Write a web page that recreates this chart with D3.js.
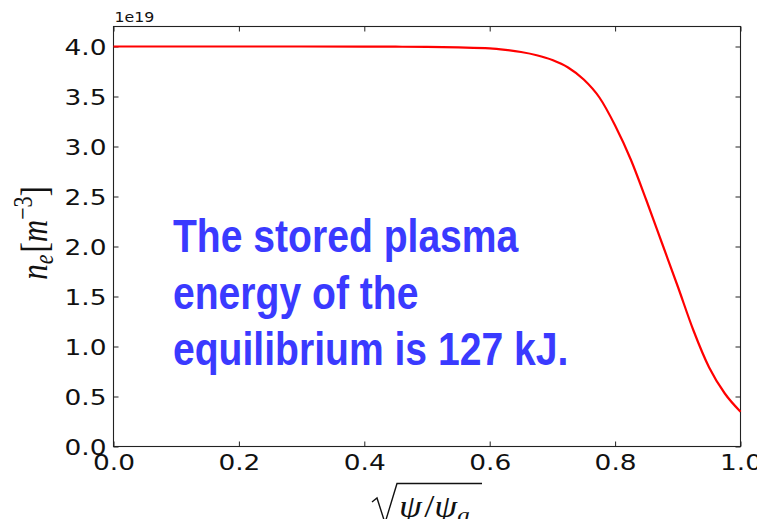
<!DOCTYPE html>
<html>
<head>
<meta charset="utf-8">
<script src="https://cdn.jsdelivr.net/npm/d3@7"></script>
<style>
  html, body { margin: 0; padding: 0; background: #fff; overflow: hidden; }
  svg { display: block; }
</style>
</head>
<body>
<svg id="chart" width="757" height="519"></svg>
<script>
// Normalised flux coordinate sqrt(psi/psi_a)
const rho = [0.000, 0.100, 0.200, 0.300, 0.400, 0.450, 0.500, 0.550, 0.600, 0.625,
             0.650, 0.675, 0.700, 0.725, 0.750, 0.775, 0.800, 0.825, 0.850, 0.875,
             0.900, 0.925, 0.950, 0.975, 1.000];
// Electron density profile, units of 1e19 m^-3
const density = [4.000, 4.000, 4.000, 4.000, 3.999, 3.998, 3.996, 3.991, 3.982, 3.967,
                 3.945, 3.913, 3.865, 3.790, 3.670, 3.490, 3.210, 2.870, 2.460, 2.030,
                 1.600, 1.160, 0.790, 0.530, 0.348];
const xTicks = [0.0, 0.2, 0.4, 0.6, 0.8, 1.0];
const yTicks = [0.0, 0.5, 1.0, 1.5, 2.0, 2.5, 3.0, 3.5, 4.0];
const annotation = ["The stored plasma", "energy of the", "equilibrium is 127 kJ."];

const W = 757, H = 519;
const margin = { left: 113.5, right: 16.5, top: 26.5, bottom: 72.5 };
const svg = d3.select("#chart");

const x = d3.scaleLinear().domain([0, 1]).range([margin.left, W - margin.right]);
const y = d3.scaleLinear().domain([0, 4.2]).range([H - margin.bottom, margin.top]);

const tickFont = "'DejaVu Sans', sans-serif";
const stretch = 1.2;
const tickLen = 5;

// Frame
svg.append("rect")
  .attr("x", x(0)).attr("y", y(4.2))
  .attr("width", x(1) - x(0)).attr("height", y(0) - y(4.2))
  .attr("fill", "none").attr("stroke", "#222").attr("stroke-width", 1.1);

// Bottom axis with labels
const gx = svg.append("g").attr("transform", `translate(0,${y(0)})`)
  .call(d3.axisBottom(x).tickValues(xTicks).tickFormat(d3.format(".1f"))
    .tickSizeInner(-tickLen).tickSizeOuter(0));
gx.selectAll("text")
  .attr("y", 0).attr("dy", 0)
  .attr("transform", `translate(0,23) scale(${stretch},1)`)
  .attr("font-family", tickFont).attr("font-size", 22).attr("fill", "#111")
  .attr("text-anchor", "middle");

// Left axis with labels
const gy = svg.append("g").attr("transform", `translate(${x(0)},0)`)
  .call(d3.axisLeft(y).tickValues(yTicks).tickFormat(d3.format(".1f"))
    .tickSizeInner(-tickLen).tickSizeOuter(0));
gy.selectAll("text")
  .attr("x", 0).attr("dy", 0)
  .attr("transform", `translate(-7,8) scale(${stretch},1)`)
  .attr("font-family", tickFont).attr("font-size", 22).attr("fill", "#111")
  .attr("text-anchor", "end");

// Top and right axes, ticks only
svg.append("g").attr("transform", `translate(0,${y(4.2)})`)
  .call(d3.axisTop(x).tickValues(xTicks).tickFormat("").tickSizeInner(-tickLen).tickSizeOuter(0));
svg.append("g").attr("transform", `translate(${x(1)},0)`)
  .call(d3.axisRight(y).tickValues(yTicks).tickFormat("").tickSizeInner(-tickLen).tickSizeOuter(0));

svg.selectAll(".domain").remove();
svg.selectAll(".tick line").attr("stroke", "#222").attr("stroke-width", 1);

// Offset / multiplier text
svg.append("text")
  .attr("transform", `translate(${x(0) + 1},22) scale(1.17,1)`)
  .attr("font-family", tickFont).attr("font-size", 13.5).attr("fill", "#111")
  .text("1e19");

// Density profile
const line = d3.line()
  .x((d, i) => x(rho[i]))
  .y(d => y(d))
  .curve(d3.curveMonotoneX);
svg.append("path")
  .datum(density)
  .attr("d", line)
  .attr("fill", "none")
  .attr("stroke", "#ff0000")
  .attr("stroke-width", 2.2);

// Annotation
const note = svg.append("g");
annotation.forEach((s, i) => {
  note.append("text")
    .attr("transform", `translate(173,${252 + i * 56.5}) scale(0.85,1)`)
    .attr("font-family", "'Liberation Sans', Arial, sans-serif")
    .attr("font-weight", "bold")
    .attr("font-size", 46)
    .attr("fill", "#3a3aff")
    .text(s);
});

// Y axis label: n_e [m^-3]
const mathFont = "'Liberation Serif', 'DejaVu Serif', serif";
const ylab = svg.append("text")
  .attr("transform", `translate(47,233) scale(1.25,1) rotate(-90)`)
  .attr("text-anchor", "middle")
  .attr("font-family", mathFont)
  .attr("font-size", 31)
  .attr("fill", "#111");
ylab.append("tspan").attr("font-style", "italic").text("n");
ylab.append("tspan").attr("font-style", "italic").attr("font-size", 22).attr("dy", 5).text("e");
ylab.append("tspan").attr("dy", -5).attr("dx", 2).text("[");
ylab.append("tspan").attr("font-style", "italic").text("m");
ylab.append("tspan").attr("font-size", 22).attr("dy", -12).text("\u22123");
ylab.append("tspan").attr("dy", 12).text("]");

// X axis label: sqrt(psi/psi_a)
const xc = (x(0) + x(1)) / 2;
const xl = svg.append("g").attr("transform", `translate(${xc},0)`);
xl.append("path")
  .attr("d", "M-55,502 L-50,498 L-42,523 L-30,483.5 L55,483.5")
  .attr("fill", "none").attr("stroke", "#111").attr("stroke-width", 1.4);
const xlab = xl.append("text")
  .attr("transform", `translate(-28,517) scale(1.15,1)`)
  .attr("font-family", mathFont)
  .attr("font-size", 32)
  .attr("fill", "#111");
xlab.append("tspan").attr("font-style", "italic").text("\u03C8");
xlab.append("tspan").attr("dx", 2).text("/");
xlab.append("tspan").attr("font-style", "italic").text("\u03C8");
xlab.append("tspan").attr("font-style", "italic").attr("font-size", 22).attr("dy", 5).text("a");
</script>
</body>
</html>
